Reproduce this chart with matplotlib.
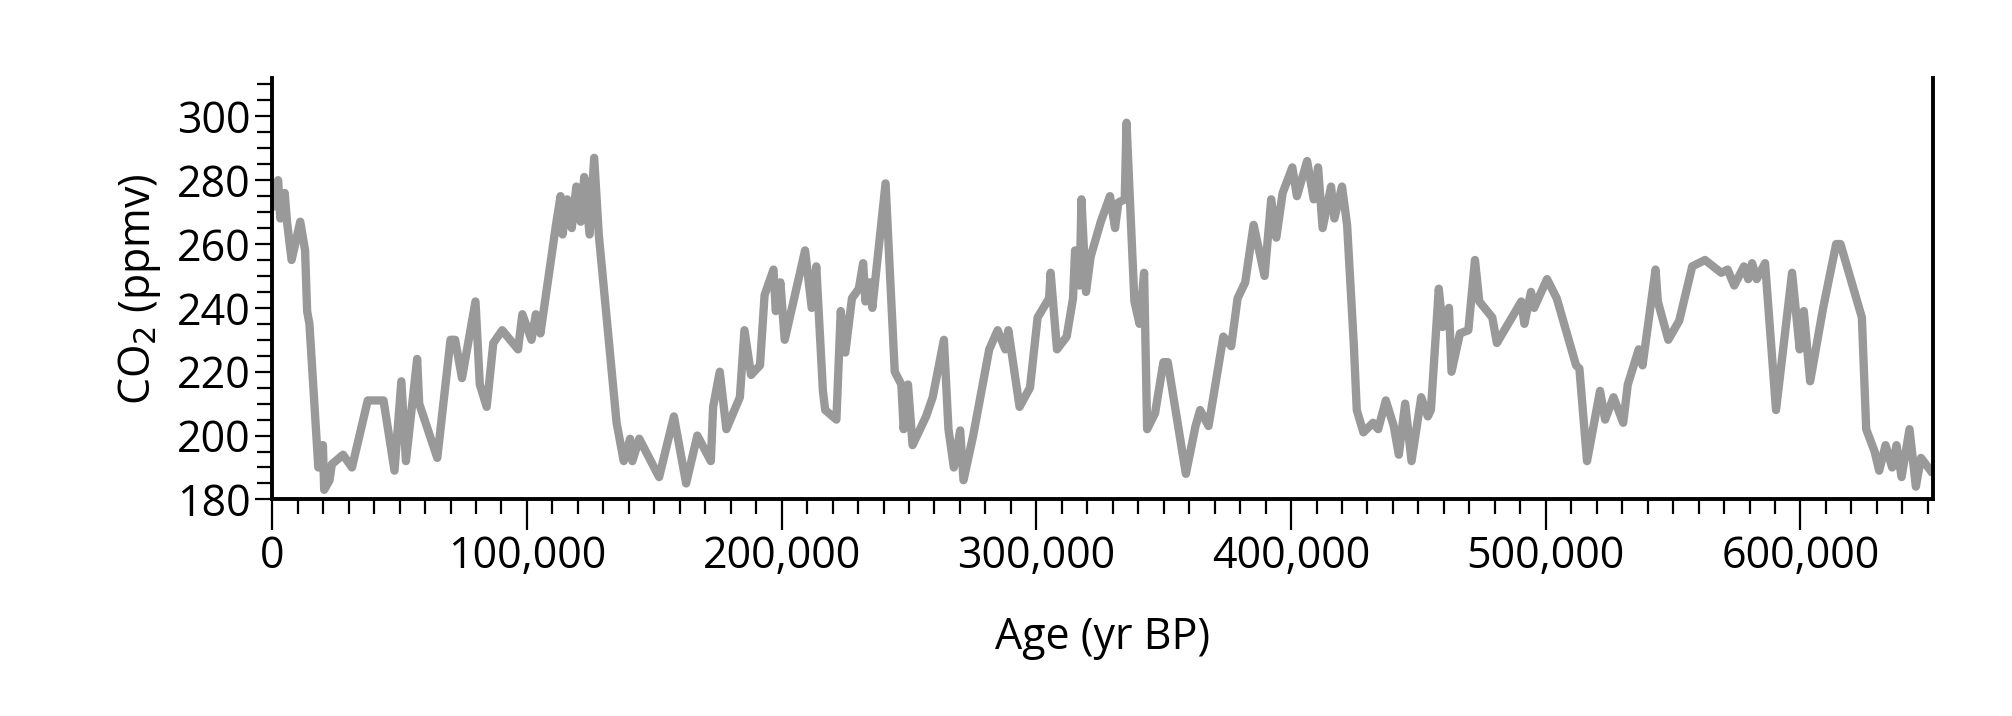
import matplotlib
matplotlib.use("Agg")
import matplotlib.pyplot as plt
from matplotlib.ticker import MultipleLocator, FuncFormatter

# age in kyr BP, CO2 in ppmv
age_kyr = [
    0, 2.3, 3.2, 4.9, 5.8, 7.6, 11, 12.9, 13.7, 14.6, 18.1, 19.9, 20.4, 22.5, 23.4, 27.8, 31.3,
    37.5, 43.7, 48, 50.7, 52.5, 56.9, 57.7, 64.8, 70, 71.8, 74.5, 79.8, 81.5, 84.2, 86.8, 90.3,
    96.5, 98.2, 101.8, 103.5, 105.3, 111.4, 113.2, 114, 115.8, 117.6, 119.4, 121.1, 122.5, 124.6,
    126.4, 128.2, 135.2, 138, 140.5, 141.4, 144.1, 151.9, 157.7, 162.5, 166.9, 172.2, 173.1,
    175.7, 178.3, 183.6, 185.4, 188, 191.5, 193.3, 196.8, 197.7, 199.5, 201.2, 209.2, 211.8,
    213.6, 216.2, 217.1, 221.5, 223.2, 225, 227.6, 230.3, 232, 232.9, 234.7, 235.6, 240.8,
    244.4, 247, 247.9, 249.6, 251.4, 256.7, 259.3, 263.7, 265.5, 267.6, 270.1, 271.4, 275.2,
    281.5, 284.8, 287.8, 289, 293.4, 297.5, 300.5, 305, 305.6, 308.1, 311.9, 314.4, 315.2,
    317, 317.7, 319.5, 321.3, 325.3, 328.9, 330.9, 332.2, 334.7, 335.4, 338.5, 340.5, 342.3,
    343.5, 346.6, 349.9, 351.6, 358.7, 362.5, 364.3, 367.6, 373.4, 376.5, 379, 382, 385.3,
    389.6, 392.2, 394.2, 396.7, 400.5, 402.3, 406.3, 408.9, 410.6, 412.4, 415.7, 417, 420,
    422, 424.6, 425.8, 428.4, 432.2, 434.2, 437.2, 440.3, 442.3, 444.8, 447.3, 451.1, 453.7,
    454.9, 458, 459.5, 462, 463, 466.3, 469.6, 472.2, 473.9, 479, 480.8, 490.4, 491.6, 494.2,
    495.4, 500.5, 504.3, 511.9, 513.2, 516.2, 521.3, 523.3, 526.6, 530.4, 532.2, 536.5, 538,
    543.1, 544, 548.1, 552.4, 557.5, 562.5, 568.9, 571.4, 574, 577.8, 579.5, 581, 582.8,
    586.1, 590.4, 596.7, 599.7, 601.3, 603.8, 608.9, 614, 615.7, 624.1, 625.8, 629.1, 630.9,
    633.4, 636, 637.7, 639.7, 642.8, 645.3, 647.3, 651.1,
]
co2_ppmv = [
    272, 280, 268, 276, 267, 255, 267, 258, 239, 235, 190, 197, 183, 186, 191, 194, 190,
    211, 211, 189, 217, 192, 224, 210, 193, 230, 230, 218, 242, 216, 209, 229, 233,
    227, 238, 230, 238, 232, 266, 275, 263, 274, 265, 278, 267, 281, 263,
    287, 263, 204, 192, 199, 192, 199, 187, 206, 185, 200, 192, 209,
    220, 202, 212, 233, 219, 222, 244, 252, 239, 248, 230, 258, 240,
    253, 214, 208, 205, 239, 226, 243, 246, 254, 242, 248, 240, 279,
    220, 216, 202, 216, 197, 206, 212, 230, 202, 190, 201.6, 186, 200,
    227, 233, 227, 233, 209, 215, 237, 243, 251, 227, 231, 243, 258,
    247, 274, 245, 256, 267, 275, 265, 273, 274, 298, 242, 235, 251,
    202, 207, 223, 223, 188, 203, 208, 203, 231, 228, 243, 248, 266,
    250, 274, 262, 276, 284, 275, 286, 274, 284, 265, 278, 268, 278,
    266, 229, 208, 201, 204, 202, 211, 203, 194, 210, 192, 212, 206,
    208, 246, 234, 240, 220, 232, 233, 255, 242, 237, 229, 242, 235,
    245, 240, 249, 243, 222, 221, 192, 214, 205, 212, 204, 216, 227, 222,
    252, 242, 230, 236, 253, 255, 251, 252, 247, 253, 249, 254, 249,
    254, 208, 251, 227, 239, 217, 240, 260, 260, 237, 202, 195, 189,
    197, 190, 197, 187, 202, 184, 193, 189,
]
age_years = [a * 1000 for a in age_kyr]

plt.rcParams["font.family"] = ["Open Sans", "DejaVu Sans"]

fig = plt.figure(figsize=(20.12, 7.16), dpi=100)
ax = fig.add_axes([0.1353, 0.3025, 0.8254, 0.5885])
ax.plot(age_years, co2_ppmv, color="#999999", linewidth=6, solid_joinstyle="round")

ax.set_xlim(0, 652000)
ax.set_ylim(180, 312)
ax.xaxis.set_major_locator(MultipleLocator(100000))
ax.xaxis.set_minor_locator(MultipleLocator(10000))
ax.yaxis.set_major_locator(MultipleLocator(20))
ax.yaxis.set_minor_locator(MultipleLocator(5))
ax.xaxis.set_major_formatter(FuncFormatter(lambda v, p: f"{int(v):,}"))
ax.set_yticks([180, 200, 220, 240, 260, 280, 300])

ax.spines["top"].set_visible(False)
for side in ("left", "bottom", "right"):
    ax.spines[side].set_linewidth(2.8)
ax.tick_params(which="major", direction="out", length=22, width=1.6, labelsize=31)
ax.tick_params(which="minor", direction="out", length=11, width=1.6)
ax.tick_params(axis="y", which="major", length=12)

ax.set_xlabel("Age (yr BP)", fontsize=31, labelpad=26)
ax.set_ylabel("CO$_2$ (ppmv)", fontsize=31, labelpad=10)

fig.savefig("out.png", dpi=100)
